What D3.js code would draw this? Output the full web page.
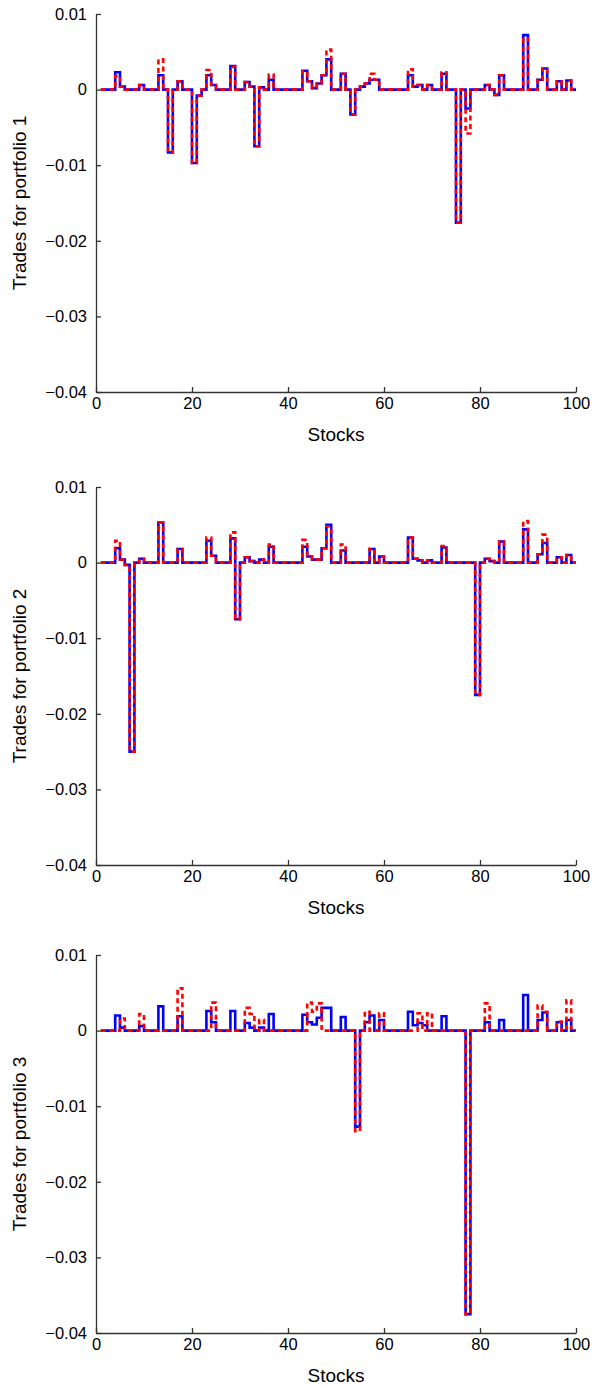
<!DOCTYPE html>
<html><head><meta charset="utf-8">
<script src="https://cdn.jsdelivr.net/npm/d3@7"></script>
<style>body{margin:0;background:#fff}</style>
</head><body><svg id="c" width="592" height="1386"></svg>
<script>
// ---- data ----
const stockCount = 100;
const xTicks = [0, 20, 40, 60, 80, 100];
const yTicks = [0.01, 0, -0.01, -0.02, -0.03, -0.04];
const yTickLabels = ["0.01", "0", "\u22120.01", "\u22120.02", "\u22120.03", "\u22120.04"];
const xTitle = "Stocks";
const yTitles = ["Trades for portfolio 1", "Trades for portfolio 2", "Trades for portfolio 3"];

// nonzero trades: [stock, value]; all other stocks are 0
const p1Blue = [[4,0.0023],[5,0.0004],[9,0.0006],[13,0.0019],[15,-0.0083],[17,0.0011],[20,-0.0097],[21,-0.0008],[23,0.0019],[24,0.0006],[28,0.0031],[31,0.001],[32,0.0004],[33,-0.0075],[34,0.0003],[36,0.0013],[43,0.0025],[44,0.0011],[45,0.0002],[46,0.0008],[47,0.0019],[48,0.004],[51,0.0021],[53,-0.0033],[55,0.0004],[56,0.0008],[57,0.0013],[58,0.0013],[65,0.0019],[66,0.0004],[67,0.0006],[69,0.0006],[72,0.0021],[75,-0.0176],[77,-0.0025],[81,0.0006],[83,-0.0007],[84,0.0019],[89,0.0072],[92,0.0013],[93,0.0028],[96,0.0011],[98,0.0012]];
const p1Red = [[4,0.0018],[5,0.0004],[9,0.0006],[13,0.004],[15,-0.0083],[17,0.0011],[20,-0.0097],[21,-0.0008],[23,0.0026],[24,0.0006],[28,0.003],[31,0.001],[32,0.0004],[33,-0.0075],[34,0.0003],[36,0.002],[43,0.0024],[44,0.0011],[45,0.0002],[46,0.0008],[47,0.0019],[48,0.0053],[51,0.0021],[53,-0.0033],[55,0.0004],[56,0.0008],[57,0.0021],[58,0.0013],[65,0.0027],[66,0.0004],[67,0.0006],[69,0.0006],[72,0.0023],[75,-0.0176],[77,-0.0058],[81,0.0006],[83,-0.0007],[84,0.0019],[89,0.0068],[92,0.0013],[93,0.0028],[96,0.0011],[98,0.0012]];

const p2Blue = [[4,0.0019],[5,0.0004],[6,-0.0003],[7,-0.025],[9,0.0005],[13,0.0053],[17,0.0018],[23,0.0029],[24,0.0009],[28,0.0032],[29,-0.0075],[31,0.0007],[32,0.0002],[34,0.0004],[36,0.0021],[43,0.0021],[44,0.0008],[45,0.0004],[46,0.0004],[47,0.0019],[48,0.005],[51,0.0016],[57,0.0018],[59,0.0008],[65,0.0033],[66,0.0005],[67,0.0003],[69,0.0003],[72,0.002],[79,-0.0175],[81,0.0005],[82,0.0002],[84,0.0028],[89,0.0044],[92,0.0011],[93,0.0026],[96,0.0007],[98,0.001]];
const p2Red = [[4,0.0029],[5,0.0004],[6,-0.0003],[7,-0.025],[9,0.0005],[13,0.0053],[17,0.0018],[23,0.0033],[24,0.0009],[28,0.004],[29,-0.0075],[31,0.0007],[32,0.0002],[34,0.0004],[36,0.0024],[43,0.003],[44,0.0008],[45,0.0004],[46,0.0004],[47,0.0019],[48,0.0048],[51,0.0024],[57,0.0018],[59,0.0008],[65,0.0033],[66,0.0005],[67,0.0003],[69,0.0003],[72,0.0022],[79,-0.0175],[81,0.0005],[82,0.0002],[84,0.0028],[89,0.0055],[92,0.0011],[93,0.0037],[96,0.0007],[98,0.001]];

const p3Blue = [[4,0.002],[5,0.0004],[9,0.0006],[13,0.0032],[17,0.0019],[23,0.0026],[24,0.0011],[28,0.0026],[31,0.001],[32,0.0004],[34,0.0004],[36,0.0022],[43,0.0021],[44,0.0011],[45,0.0008],[46,0.0017],[47,0.003],[48,0.003],[51,0.0018],[54,-0.0127],[56,0.0011],[57,0.002],[59,0.0014],[65,0.0025],[66,0.0007],[67,0.001],[68,0.0007],[72,0.0019],[77,-0.0375],[81,0.0011],[84,0.0014],[89,0.0047],[92,0.0014],[93,0.0024],[96,0.0011],[98,0.0014]];
const p3Red = [[5,0.0016],[9,0.0022],[17,0.0056],[24,0.0037],[31,0.003],[32,0.0022],[34,0.0014],[44,0.0037],[45,0.0025],[46,0.0036],[54,-0.0133],[56,0.0025],[59,0.0023],[67,0.0023],[69,0.0023],[77,-0.0375],[81,0.0036],[92,0.0033],[93,0.0025],[96,0.0012],[98,0.004]];

const panels = [
  {blue: p1Blue, red: p1Red, title: yTitles[0]},
  {blue: p2Blue, red: p2Red, title: yTitles[1]},
  {blue: p3Blue, red: p3Red, title: yTitles[2]}
];

// ---- layout ----
const svg = d3.select("#c");
const left = 96, right = 576;
const tops = [14, 487, 955];
const plotH = 378;
const font = "Liberation Sans, Arial, Helvetica, sans-serif";
const axisColor = "#333";

function expand(sparse) {
  const arr = new Array(stockCount).fill(0);
  sparse.forEach(([s, v]) => { arr[s - 1] = v; });
  return arr.map((v, i) => ({s: i + 1, v}));
}

panels.forEach((p, pi) => {
  const top = tops[pi];
  const x = d3.scaleLinear().domain([0, 100]).range([left, right]);
  const y = d3.scaleLinear().domain([-0.04, 0.01]).range([top + plotH, top]);
  const g = svg.append("g");

  const line = d3.line().x(d => x(d.s)).y(d => y(d.v)).curve(d3.curveStepAfter);

  g.append("path").datum(expand(p.blue))
    .attr("d", line).attr("fill", "none")
    .attr("stroke", "#0000ff").attr("stroke-width", 2.6);
  g.append("path").datum(expand(p.red))
    .attr("d", line).attr("fill", "none")
    .attr("stroke", "#ff0000").attr("stroke-width", 2.6)
    .attr("stroke-dasharray", "5,3.5");

  // axes (ticks point inward)
  const yAxis = d3.axisLeft(y).tickValues(yTicks)
    .tickFormat((d, i) => yTickLabels[i]).tickSizeInner(-5).tickSizeOuter(0).tickPadding(9);
  const gy = g.append("g").attr("transform", `translate(${left},0)`).call(yAxis);
  const xAxis = d3.axisBottom(x).tickValues(xTicks).tickSizeInner(-5).tickSizeOuter(0).tickPadding(5);
  const gx = g.append("g").attr("transform", `translate(0,${top + plotH})`).call(xAxis);
  [gy, gx].forEach(a => {
    a.select(".domain").attr("stroke", axisColor).attr("stroke-width", 1.3);
    a.selectAll(".tick line").attr("stroke", axisColor).attr("stroke-width", 1.3);
    a.selectAll(".tick text").attr("fill", "#000").attr("font-size", 16.5).attr("font-family", font);
  });

  g.append("text").attr("x", (left + right) / 2).attr("y", top + plotH + 49)
    .attr("text-anchor", "middle").attr("font-size", 19).attr("font-family", font)
    .text(xTitle);
  g.append("text")
    .attr("transform", `translate(26,${top + plotH / 2}) rotate(-90)`)
    .attr("text-anchor", "middle").attr("font-size", 19).attr("font-family", font)
    .text(p.title);
});
</script></body></html>
